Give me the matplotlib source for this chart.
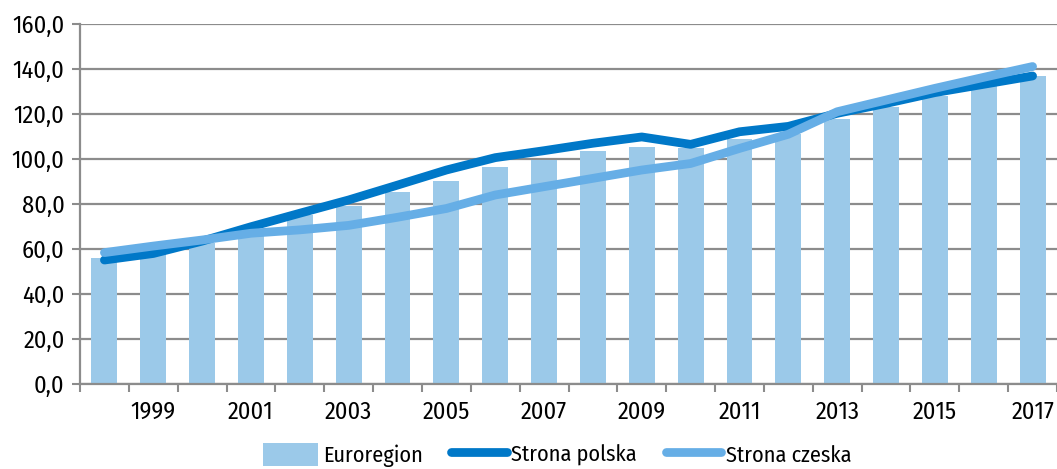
import matplotlib
matplotlib.use("Agg")
import matplotlib.pyplot as plt
import numpy as np
from matplotlib.patches import Patch
from matplotlib.lines import Line2D

years = list(range(1998, 2018))
euroregion = [56.1, 58.8, 62.5, 68.0, 75.0, 79.1, 85.5, 90.4, 96.6, 99.6,
              103.7, 105.5, 104.7, 108.7, 111.0, 117.6, 122.9, 128.0, 132.9, 136.9]
strona_polska = [55.1, 58.0, 63.5, 69.9, 75.9, 81.8, 88.4, 95.1, 100.6, 103.7,
                 107.0, 109.8, 106.5, 112.1, 114.5, 120.3, 124.7, 129.5, 133.2, 136.9]
strona_czeska = [58.4, 61.3, 64.0, 67.0, 68.5, 70.5, 74.1, 78.0, 84.0, 87.7,
                 91.4, 95.1, 98.0, 104.7, 111.0, 121.0, 126.2, 131.4, 136.3, 141.1]
y_ticks = [0, 20, 40, 60, 80, 100, 120, 140, 160]
labels = ["Euroregion", "Strona polska", "Strona czeska"]

FONT = ["Fira Sans Condensed", "IBM Plex Sans Condensed", "DejaVu Sans"]
plt.rcParams["font.family"] = FONT
FS = 17.5
FS_LEG = 16

c_bar = "#9BC9E9"
c_pl = "#0078C8"
c_cz = "#66AEE6"
c_grid = "#8C8C8C"

fig = plt.figure(figsize=(10.57, 4.69), dpi=100)
ax = fig.add_axes([80 / 1057, 1 - 384 / 469, 1 - 80 / 1057, (384 - 24) / 469])

x = np.arange(len(years))
ax.bar(x, euroregion, width=0.53, color=c_bar, zorder=2)
ax.plot(x, strona_polska, color=c_pl, lw=6.3, solid_capstyle="round",
        solid_joinstyle="round", zorder=3)
ax.plot(x, strona_czeska, color=c_cz, lw=6.3, solid_capstyle="round",
        solid_joinstyle="round", zorder=4)

ax.set_xlim(-0.5, len(years) - 0.5)
ax.set_ylim(0, 160)
ax.set_yticks(y_ticks)
ax.set_yticklabels([f"{v:.1f}".replace(".", ",") for v in y_ticks], fontsize=FS)
ax.yaxis.grid(True, color=c_grid, lw=1.6, zorder=0)
ax.set_axisbelow(True)

ax.set_xticks(np.arange(-0.5, len(years) + 0.5, 1.0))
ax.set_xticklabels([])
ax.set_xticks(x[1::2], minor=True)
ax.set_xticklabels([str(y) for y in years[1::2]], minor=True, fontsize=FS)
ax.tick_params(axis="x", which="major", length=6, width=1.5, color=c_grid, direction="out")
ax.tick_params(axis="x", which="minor", length=0, pad=12)
ax.tick_params(axis="y", length=6, width=1.5, color=c_grid, pad=5)

for s in ["top", "right"]:
    ax.spines[s].set_visible(False)
for s in ["left", "bottom"]:
    ax.spines[s].set_color(c_grid)
    ax.spines[s].set_linewidth(1.6)

handles = [Patch(facecolor=c_bar, edgecolor="none"),
           Line2D([0], [0], color=c_pl, lw=6.3, solid_capstyle="round"),
           Line2D([0], [0], color=c_cz, lw=6.3, solid_capstyle="round")]
fig.legend(handles, labels, loc="center", bbox_to_anchor=(0.527, 0.03), ncol=3,
           frameon=False, fontsize=FS_LEG, handlelength=2.5, handleheight=1.25,
           handletextpad=0.2, columnspacing=1.3, borderpad=0.1)

fig.savefig("out.png", dpi=100)
